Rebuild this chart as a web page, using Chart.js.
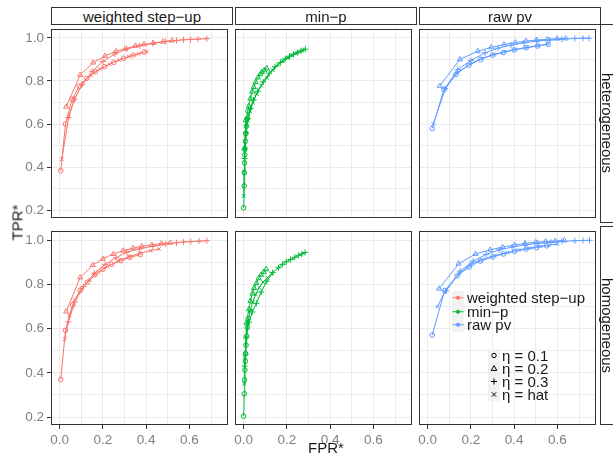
<!DOCTYPE html>
<html>
<head>
<meta charset="utf-8">
<title>TPR* vs FPR*</title>
<script src="https://cdn.jsdelivr.net/npm/chart.js@4.4.1/dist/chart.umd.min.js"></script>
<style>
  html, body { margin: 0; padding: 0; background: #fff; }
  #fig { position: relative; width: 613px; height: 457px; overflow: hidden;
         font-family: "Liberation Sans", Arial, Helvetica, sans-serif; color: #1a1a1a; }
  #fig canvas { position: absolute; }
  .strip { position: absolute; box-sizing: border-box; border: 1px solid #333; background: #fff;
           font-size: 15px; display: flex; align-items: center; justify-content: center; z-index: 2; }
  .strip.side { writing-mode: vertical-rl; }
  .title { position: absolute; font-size: 15px; white-space: nowrap; z-index: 2; }
  .legend { position: absolute; z-index: 3; font-size: 15px; }
  .row { position: absolute; display: flex; align-items: center; white-space: nowrap; }
  .key { background: #F2F2F2; display: block; }
</style>
</head>
<body>
<div id="fig"></div>
<script>
// ---- axis ticks ----
const xTickValues = [0, 0.1, 0.2, 0.3, 0.4, 0.5, 0.6, 0.7];
const xTickLabels = ['0.0', '', '0.2', '', '0.4', '', '0.6', ''];
const yTickValues = [0.2, 0.3, 0.4, 0.5, 0.6, 0.7, 0.8, 0.9, 1.0];
const yTickLabels = ['0.2', '', '0.4', '', '0.6', '', '0.8', '', '1.0'];

// ---- facets ----
const methods = ['weighted step−up', 'min−p', 'raw pv'];
const settings = ['heterogeneous', 'homogeneous'];
const etaLabels = ['η = 0.1', 'η = 0.2', 'η = 0.3', 'η = hat'];

// ---- weighted step-up, heterogeneous ----
const wsuHetE01Fpr = [0.005, 0.027, 0.058, 0.090, 0.125, 0.165, 0.207, 0.250, 0.295, 0.340, 0.390];
const wsuHetE01Tpr = [0.383, 0.600, 0.715, 0.775, 0.812, 0.843, 0.866, 0.886, 0.905, 0.920, 0.933];
const wsuHetE02Fpr = [0.030, 0.095, 0.155, 0.210, 0.260, 0.304, 0.350, 0.390, 0.433, 0.478, 0.520];
const wsuHetE02Tpr = [0.680, 0.828, 0.885, 0.916, 0.938, 0.950, 0.963, 0.970, 0.976, 0.982, 0.987];
const wsuHetE03Fpr = [0.040, 0.068, 0.105, 0.150, 0.200, 0.255, 0.310, 0.370, 0.430, 0.490, 0.540, 0.572, 0.605, 0.640, 0.680];
const wsuHetE03Tpr = [0.630, 0.715, 0.785, 0.845, 0.890, 0.925, 0.948, 0.963, 0.974, 0.983, 0.988, 0.991, 0.993, 0.994, 0.996];
const wsuHetEHatFpr = [0.010, 0.042, 0.068, 0.105, 0.145, 0.185, 0.230, 0.275, 0.320, 0.365, 0.403];
const wsuHetEHatTpr = [0.437, 0.633, 0.714, 0.787, 0.826, 0.855, 0.878, 0.897, 0.913, 0.926, 0.937];

// ---- min-p, heterogeneous ----
const minpHetE01Fpr = [0.000, 0.003, 0.003, 0.004, 0.005, 0.006, 0.008, 0.010, 0.013, 0.016, 0.020];
const minpHetE01Tpr = [0.211, 0.313, 0.374, 0.420, 0.457, 0.486, 0.520, 0.555, 0.590, 0.625, 0.660];
const minpHetE02Fpr = [0.003, 0.010, 0.024, 0.031, 0.039, 0.047, 0.055, 0.066, 0.077, 0.084, 0.095, 0.107];
const minpHetE02Tpr = [0.486, 0.618, 0.684, 0.718, 0.750, 0.772, 0.794, 0.816, 0.831, 0.841, 0.849, 0.858];
const minpHetE03Fpr = [0.004, 0.010, 0.020, 0.032, 0.046, 0.065, 0.090, 0.118, 0.145, 0.170, 0.192, 0.212, 0.230, 0.248, 0.265, 0.285];
const minpHetE03Tpr = [0.440, 0.560, 0.625, 0.672, 0.712, 0.752, 0.796, 0.836, 0.866, 0.886, 0.903, 0.915, 0.924, 0.932, 0.939, 0.947];
const minpHetEHatFpr = [0.000, 0.002, 0.006, 0.012, 0.020, 0.030, 0.043, 0.060, 0.082, 0.108, 0.135, 0.160, 0.182, 0.204, 0.226, 0.248, 0.268, 0.280];
const minpHetEHatTpr = [0.266, 0.380, 0.480, 0.560, 0.615, 0.660, 0.700, 0.740, 0.778, 0.815, 0.850, 0.875, 0.893, 0.907, 0.919, 0.930, 0.940, 0.946];

// ---- raw pv, heterogeneous ----
const rawHetE01Fpr = [0.021, 0.075, 0.130, 0.190, 0.245, 0.300, 0.350, 0.400, 0.455, 0.508, 0.557];
const rawHetE01Tpr = [0.579, 0.760, 0.830, 0.873, 0.900, 0.920, 0.932, 0.944, 0.954, 0.962, 0.970];
const rawHetE02Fpr = [0.056, 0.149, 0.232, 0.294, 0.353, 0.405, 0.455, 0.503, 0.553, 0.598, 0.638];
const rawHetE02Tpr = [0.777, 0.900, 0.938, 0.956, 0.969, 0.978, 0.985, 0.990, 0.993, 0.996, 0.997];
const rawHetE03Fpr = [0.080, 0.139, 0.200, 0.265, 0.325, 0.385, 0.445, 0.505, 0.565, 0.620, 0.680, 0.718, 0.745];
const rawHetE03Tpr = [0.765, 0.853, 0.895, 0.930, 0.952, 0.966, 0.977, 0.985, 0.990, 0.994, 0.997, 0.998, 0.998];
const rawHetEHatFpr = [0.026, 0.082, 0.137, 0.196, 0.250, 0.305, 0.355, 0.405, 0.458, 0.510, 0.555];
const rawHetEHatTpr = [0.600, 0.765, 0.838, 0.879, 0.904, 0.923, 0.935, 0.946, 0.956, 0.964, 0.971];

// ---- weighted step-up, homogeneous ----
const wsuHomE01Fpr = [0.005, 0.027, 0.060, 0.095, 0.128, 0.163, 0.200, 0.240, 0.283, 0.324, 0.373];
const wsuHomE01Tpr = [0.369, 0.592, 0.706, 0.772, 0.809, 0.843, 0.868, 0.890, 0.907, 0.922, 0.934];
const wsuHomE02Fpr = [0.030, 0.095, 0.153, 0.200, 0.248, 0.293, 0.339, 0.380, 0.426, 0.470, 0.512];
const wsuHomE02Tpr = [0.677, 0.831, 0.887, 0.915, 0.937, 0.952, 0.963, 0.972, 0.978, 0.984, 0.988];
const wsuHomE03Fpr = [0.040, 0.070, 0.110, 0.160, 0.210, 0.260, 0.310, 0.370, 0.430, 0.490, 0.540, 0.572, 0.606, 0.644, 0.680];
const wsuHomE03Tpr = [0.630, 0.720, 0.790, 0.850, 0.890, 0.920, 0.945, 0.960, 0.972, 0.982, 0.988, 0.991, 0.993, 0.995, 0.997];
const wsuHomEHatFpr = [0.023, 0.045, 0.070, 0.100, 0.140, 0.180, 0.220, 0.270, 0.320, 0.370, 0.420, 0.459];
const wsuHomEHatTpr = [0.552, 0.660, 0.730, 0.780, 0.820, 0.855, 0.880, 0.905, 0.925, 0.940, 0.952, 0.960];

// ---- min-p, homogeneous ----
const minpHomE01Fpr = [0.000, 0.003, 0.004, 0.006, 0.008, 0.009, 0.011, 0.014, 0.017, 0.021];
const minpHomE01Tpr = [0.204, 0.305, 0.368, 0.413, 0.452, 0.486, 0.525, 0.565, 0.605, 0.645];
const minpHomE02Fpr = [0.009, 0.013, 0.024, 0.031, 0.040, 0.048, 0.059, 0.069, 0.081, 0.093, 0.104];
const minpHomE02Tpr = [0.490, 0.626, 0.687, 0.725, 0.758, 0.783, 0.805, 0.827, 0.843, 0.856, 0.868];
const minpHomE03Fpr = [0.004, 0.012, 0.025, 0.040, 0.059, 0.081, 0.107, 0.134, 0.161, 0.179, 0.197, 0.217, 0.236, 0.254, 0.269, 0.284];
const minpHomE03Tpr = [0.430, 0.560, 0.630, 0.675, 0.714, 0.765, 0.814, 0.853, 0.875, 0.890, 0.902, 0.912, 0.922, 0.931, 0.937, 0.944];
const minpHomEHatFpr = [0.002, 0.006, 0.012, 0.020, 0.030, 0.042, 0.056, 0.072, 0.090, 0.110, 0.130];
const minpHomEHatTpr = [0.350, 0.470, 0.560, 0.630, 0.680, 0.720, 0.755, 0.785, 0.810, 0.830, 0.850];

// ---- raw pv, homogeneous ----
const rawHomE01Fpr = [0.021, 0.079, 0.136, 0.192, 0.244, 0.301, 0.350, 0.402, 0.455, 0.503, 0.550];
const rawHomE01Tpr = [0.571, 0.772, 0.838, 0.878, 0.905, 0.924, 0.937, 0.949, 0.959, 0.966, 0.974];
const rawHomE02Fpr = [0.053, 0.143, 0.221, 0.289, 0.346, 0.402, 0.450, 0.500, 0.545, 0.590, 0.632];
const rawHomE02Tpr = [0.780, 0.893, 0.937, 0.956, 0.968, 0.978, 0.985, 0.990, 0.993, 0.996, 0.998];
const rawHomE03Fpr = [0.085, 0.150, 0.210, 0.270, 0.330, 0.390, 0.450, 0.510, 0.570, 0.620, 0.680, 0.718, 0.748];
const rawHomE03Tpr = [0.770, 0.860, 0.905, 0.935, 0.955, 0.968, 0.978, 0.985, 0.990, 0.994, 0.997, 0.998, 0.999];
const rawHomEHatFpr = [0.045, 0.079, 0.146, 0.200, 0.250, 0.310, 0.370, 0.420, 0.470, 0.520, 0.560, 0.600];
const rawHomEHatTpr = [0.699, 0.765, 0.849, 0.890, 0.912, 0.930, 0.944, 0.955, 0.964, 0.972, 0.977, 0.982];

// panel table: rows = setting, columns = method; each cell lists the four eta curves
const panelSeries = [
  [
    [[wsuHetE01Fpr, wsuHetE01Tpr], [wsuHetE02Fpr, wsuHetE02Tpr], [wsuHetE03Fpr, wsuHetE03Tpr], [wsuHetEHatFpr, wsuHetEHatTpr]],
    [[minpHetE01Fpr, minpHetE01Tpr], [minpHetE02Fpr, minpHetE02Tpr], [minpHetE03Fpr, minpHetE03Tpr], [minpHetEHatFpr, minpHetEHatTpr]],
    [[rawHetE01Fpr, rawHetE01Tpr], [rawHetE02Fpr, rawHetE02Tpr], [rawHetE03Fpr, rawHetE03Tpr], [rawHetEHatFpr, rawHetEHatTpr]]
  ],
  [
    [[wsuHomE01Fpr, wsuHomE01Tpr], [wsuHomE02Fpr, wsuHomE02Tpr], [wsuHomE03Fpr, wsuHomE03Tpr], [wsuHomEHatFpr, wsuHomEHatTpr]],
    [[minpHomE01Fpr, minpHomE01Tpr], [minpHomE02Fpr, minpHomE02Tpr], [minpHomE03Fpr, minpHomE03Tpr], [minpHomEHatFpr, minpHomEHatTpr]],
    [[rawHomE01Fpr, rawHomE01Tpr], [rawHomE02Fpr, rawHomE02Tpr], [rawHomE03Fpr, rawHomE03Tpr], [rawHomEHatFpr, rawHomEHatTpr]]
  ]
];

// ---- styling ----
const methodColors = ['#F8766D', '#00BA38', '#619CFF'];
const etaShapes = ['circle', 'triangle', 'cross', 'crossRot'];
const etaRadius = [2.3, 2.9, 3.0, 2.6];
const FONT = '"Liberation Sans", Arial, Helvetica, sans-serif';
const GRID = '#EBEBEB';
const FRAME = '#333333';

// panel frames in page pixels (chart areas)
const COL_L = [51, 235, 419];
const COL_R = [233, 417, 601];
const ROW_T = [24, 226];
const ROW_B = [223, 425];
const X_MIN = -0.04, X_MAX = 0.778;
const Y_MIN = 0.164, Y_MAX = 1.041;

const fig = document.getElementById('fig');

const panelFrame = {
  id: 'panelFrame',
  beforeDraw(chart) {
    const a = chart.chartArea, ctx = chart.ctx;
    ctx.save();
    ctx.fillStyle = '#fff';
    ctx.fillRect(a.left, a.top, a.right - a.left, a.bottom - a.top);
    ctx.restore();
  },
  afterDatasetsDraw(chart) {
    const a = chart.chartArea, ctx = chart.ctx;
    ctx.save();
    ctx.strokeStyle = FRAME;
    ctx.lineWidth = 1;
    ctx.strokeRect(a.left + 0.5, a.top + 0.5, a.right - a.left - 1, a.bottom - a.top - 1);
    ctx.restore();
  }
};

function zeroPad(s) { s.paddingLeft = 0; s.paddingRight = 0; s.paddingTop = 0; s.paddingBottom = 0; }

function makePanel(r, c) {
  const left = COL_L[c], right = COL_R[c], top = ROW_T[r], bottom = ROW_B[r];
  const yAxisW = c === 0 ? left : 0;
  const padL = c === 0 ? 0 : 12;
  const xAxisH = r === 1 ? 26 : 0;
  const cvLeft = left - yAxisW - padL;
  const cvW = right - cvLeft;
  const cvH = (bottom - top) + xAxisH;

  const cv = document.createElement('canvas');
  cv.width = cvW; cv.height = cvH;
  cv.style.left = cvLeft + 'px'; cv.style.top = top + 'px';
  cv.style.width = cvW + 'px'; cv.style.height = cvH + 'px';
  fig.appendChild(cv);

  const color = methodColors[c];
  const datasets = panelSeries[r][c].map(([fpr, tpr], k) => ({
    label: etaLabels[k],
    data: fpr.map((x, i) => ({ x: x, y: tpr[i] })),
    showLine: true,
    borderColor: color,
    borderWidth: 1,
    backgroundColor: 'rgba(0,0,0,0)',
    pointStyle: etaShapes[k],
    pointRadius: etaRadius[k],
    pointBorderWidth: 1,
    pointBorderColor: color,
    pointBackgroundColor: 'rgba(0,0,0,0)',
    tension: 0
  }));

  const showX = r === 1, showY = c === 0;

  new Chart(cv, {
    type: 'scatter',
    data: { datasets },
    plugins: [panelFrame],
    options: {
      responsive: false,
      animation: false,
      events: [],
      layout: { padding: { left: padL, right: 0, top: 0, bottom: 0 } },
      plugins: { legend: { display: false }, tooltip: { enabled: false } },
      scales: {
        x: {
          type: 'linear', min: X_MIN, max: X_MAX,
          afterBuildTicks: s => { s.ticks = xTickValues.map(v => ({ value: v })); },
          afterFit: s => { s.height = xAxisH; zeroPad(s); },
          border: { display: false },
          grid: {
            color: GRID, lineWidth: 1, drawTicks: showX, tickLength: 4, tickWidth: 1,
            tickColor: ctx => (xTickLabels[ctx.index] ? FRAME : 'rgba(0,0,0,0)')
          },
          ticks: {
            display: showX, autoSkip: false, maxRotation: 0, padding: 3,
            color: '#7F7F7F', font: { family: FONT, size: 13.5 },
            callback: (v, i) => xTickLabels[i]
          }
        },
        y: {
          type: 'linear', min: Y_MIN, max: Y_MAX,
          afterBuildTicks: s => { s.ticks = yTickValues.map(v => ({ value: v })); },
          afterFit: s => { s.width = yAxisW; zeroPad(s); },
          border: { display: false },
          grid: {
            color: GRID, lineWidth: 1, drawTicks: showY, tickLength: 4, tickWidth: 1,
            tickColor: ctx => (yTickLabels[ctx.index] ? FRAME : 'rgba(0,0,0,0)')
          },
          ticks: {
            display: showY, autoSkip: false, padding: 3,
            color: '#7F7F7F', font: { family: FONT, size: 13.5 },
            callback: (v, i) => yTickLabels[i]
          }
        }
      }
    }
  });
}

for (let r = 0; r < 2; r++) for (let c = 0; c < 3; c++) makePanel(r, c);

// ---- facet strips ----
function addDiv(cls, css, text) {
  const d = document.createElement('div');
  d.className = cls;
  Object.assign(d.style, css);
  if (text !== undefined) d.textContent = text;
  fig.appendChild(d);
  return d;
}
methods.forEach((m, c) => {
  addDiv('strip', { left: COL_L[c] + 'px', top: '7px', width: (COL_R[c] - COL_L[c]) + 'px', height: '18px' }, m);
});
settings.forEach((s, r) => {
  addDiv('strip side', { left: (COL_R[2] - 1) + 'px', top: ROW_T[r] + 'px', width: '15px', height: (ROW_B[r] - ROW_T[r]) + 'px' }, s);
});

// ---- axis titles ----
addDiv('title', { left: '308px', top: '439px' }, 'FPR*');
addDiv('title', { left: '1px', top: '216px', transform: 'rotate(-90deg)', transformOrigin: '50% 50%', width: '32px', textAlign: 'center' }, 'TPR*');

// ---- legends ----
const svgNS = 'http://www.w3.org/2000/svg';
function keySvg(w, h, draw) {
  const s = document.createElementNS(svgNS, 'svg');
  s.setAttribute('width', w); s.setAttribute('height', h);
  s.setAttribute('class', 'key');
  s.innerHTML = draw;
  return s;
}
const colorLegend = addDiv('legend', { left: '452px', top: '291px' });
methods.forEach((m, i) => {
  const row = document.createElement('div');
  row.className = 'row';
  Object.assign(row.style, { left: '0px', top: (i * 13.5) + 'px', height: '13.5px' });
  const col = methodColors[i];
  row.appendChild(keySvg(12, 13.5,
    `<line x1="0.5" y1="6.75" x2="11.5" y2="6.75" stroke="${col}" stroke-width="1"/>` +
    `<circle cx="6" cy="6.75" r="2" fill="${col}"/>`));
  const t = document.createElement('span');
  t.textContent = m; t.style.marginLeft = '3px';
  row.appendChild(t);
  colorLegend.appendChild(row);
});

const shapeDraw = [
  '<circle cx="6" cy="6.5" r="2.2" fill="none" stroke="#000" stroke-width="1"/>',
  '<polygon points="6,3.6 8.8,8.4 3.2,8.4" fill="none" stroke="#000" stroke-width="1"/>',
  '<path d="M3,6.5 H9 M6,3.5 V9.5" stroke="#000" stroke-width="1"/>',
  '<path d="M3.8,4.3 L8.2,8.7 M8.2,4.3 L3.8,8.7" stroke="#000" stroke-width="1"/>'
];
const shapeLegend = addDiv('legend', { left: '488px', top: '349px' });
etaLabels.forEach((lab, i) => {
  const row = document.createElement('div');
  row.className = 'row';
  Object.assign(row.style, { left: '0px', top: (i * 13) + 'px', height: '13px' });
  row.appendChild(keySvg(12, 13, shapeDraw[i]));
  const t = document.createElement('span');
  t.textContent = lab; t.style.marginLeft = '2px';
  row.appendChild(t);
  shapeLegend.appendChild(row);
});
</script>
</body>
</html>
